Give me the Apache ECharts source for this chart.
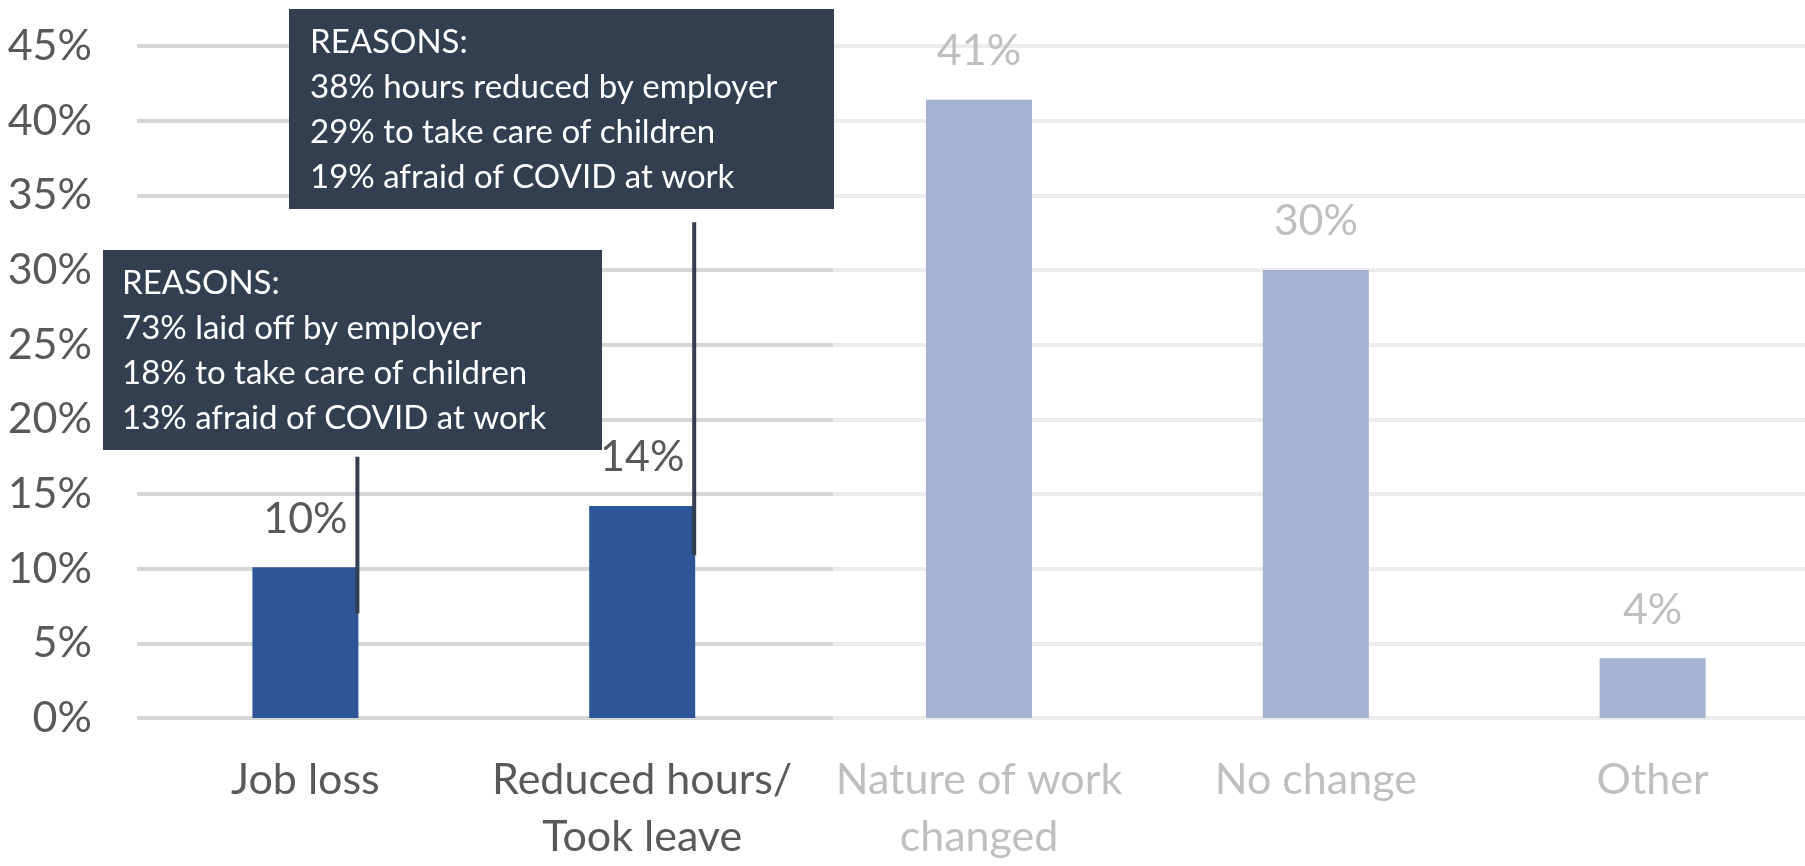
<!DOCTYPE html>
<html><head><meta charset="utf-8">
<script src="https://cdn.jsdelivr.net/npm/echarts@6/dist/echarts.min.js"></script>
<style>html,body{margin:0;padding:0;background:#fff;overflow:hidden}#c{width:1805px;height:866px}</style>
</head><body><div id="c"></div>
<script>
// ---- data ----
const categories = ['Job loss', 'Reduced hours/\nTook leave', 'Nature of work\nchanged', 'No change', 'Other'];
const values = [10.1, 14.2, 41.4, 30.0, 4.0];
const highlighted = [true, true, false, false, false];
const yMin = 0, yMax = 45, yStep = 5;
const jobLossReasons = ['REASONS:', '73% laid off by employer', '18% to take care of children', '13% afraid of COVID at work'];
const reducedReasons = ['REASONS:', '38% hours reduced by employer', '29% to take care of children', '19% afraid of COVID at work'];
// leader lines: [category index, bottom value, top value]
const leaderLines = [[0, 7.0, 17.5], [1, 10.9, 33.2]];

// ---- styles ----
const FONT = 'Lato, "Open Sans", sans-serif';
const DARK_TXT = '#595959', LIGHT_TXT = '#BFBFBF';
const DARK_BAR = '#2E5596', LIGHT_BAR = '#A2B2D0';
const BOX = '#333F50';
const BAR_W = 106;
const FS = 43;

const chart = echarts.init(document.getElementById('c'), null, {renderer: 'canvas'});

function box(lines, x, y, w, h, tx, ty) {
  return {
    type: 'group', z: 100,
    children: [
      {type: 'rect', shape: {x: x, y: y, width: w, height: h}, style: {fill: BOX}, z: 100},
      {type: 'text', x: tx, y: ty, z: 101,
       style: {text: lines.join('\n'), fill: '#ffffff', font: '33px ' + FONT, lineHeight: 45, textVerticalAlign: 'top'}}
    ]
  };
}

chart.setOption({
  animation: false,
  backgroundColor: '#ffffff',
  grid: {left: 137, top: 46, width: 1684, height: 672, outerBoundsMode: 'none', containLabel: false},
  xAxis: {
    type: 'category',
    data: categories.map((c, i) => ({value: c, textStyle: {color: highlighted[i] ? DARK_TXT : LIGHT_TXT}})),
    axisLine: {show: false}, axisTick: {show: false},
    axisLabel: {fontFamily: FONT, fontSize: FS, lineHeight: 57, margin: 34, interval: 0}
  },
  yAxis: {
    type: 'value', min: yMin, max: yMax, interval: yStep,
    axisLine: {show: false}, axisTick: {show: false},
    axisLabel: {formatter: '{value}%', color: DARK_TXT, fontFamily: FONT, fontSize: FS, margin: 45},
    splitLine: {lineStyle: {width: 4, color: {
      type: 'linear', x: 0, y: 0, x2: 1, y2: 0, global: false,
      colorStops: [
        {offset: 0, color: '#D6D6D6'}, {offset: 0.4133, color: '#D6D6D6'},
        {offset: 0.4134, color: '#ECECEC'}, {offset: 1, color: '#ECECEC'}
      ]}}}
  },
  series: [
    {
      type: 'bar', barWidth: BAR_W, z: 2,
      data: values.map((v, i) => ({
        value: v,
        itemStyle: {color: highlighted[i] ? DARK_BAR : LIGHT_BAR},
        label: {color: highlighted[i] ? DARK_TXT : LIGHT_TXT}
      })),
      label: {show: true, position: 'top', distance: 27, fontFamily: FONT, fontSize: FS, lineHeight: FS,
              formatter: p => Math.round(p.value) + '%'}
    },
    {
      type: 'custom', z: 5, silent: true,
      data: leaderLines,
      encode: {x: 0, y: [1, 2]},
      renderItem: function (params, api) {
        const top = api.coord([api.value(0), api.value(2)]);
        const bot = api.coord([api.value(0), api.value(1)]);
        const x = top[0] + BAR_W / 2 - 1;
        return {type: 'line', shape: {x1: x, y1: top[1], x2: x, y2: bot[1]},
                style: {stroke: BOX, lineWidth: 4}};
      }
    }
  ],
  graphic: [
    box(reducedReasons, 289, 9, 545, 200, 310, 20),
    box(jobLossReasons, 103, 250, 499, 200, 122, 261)
  ]
});
</script></body></html>
